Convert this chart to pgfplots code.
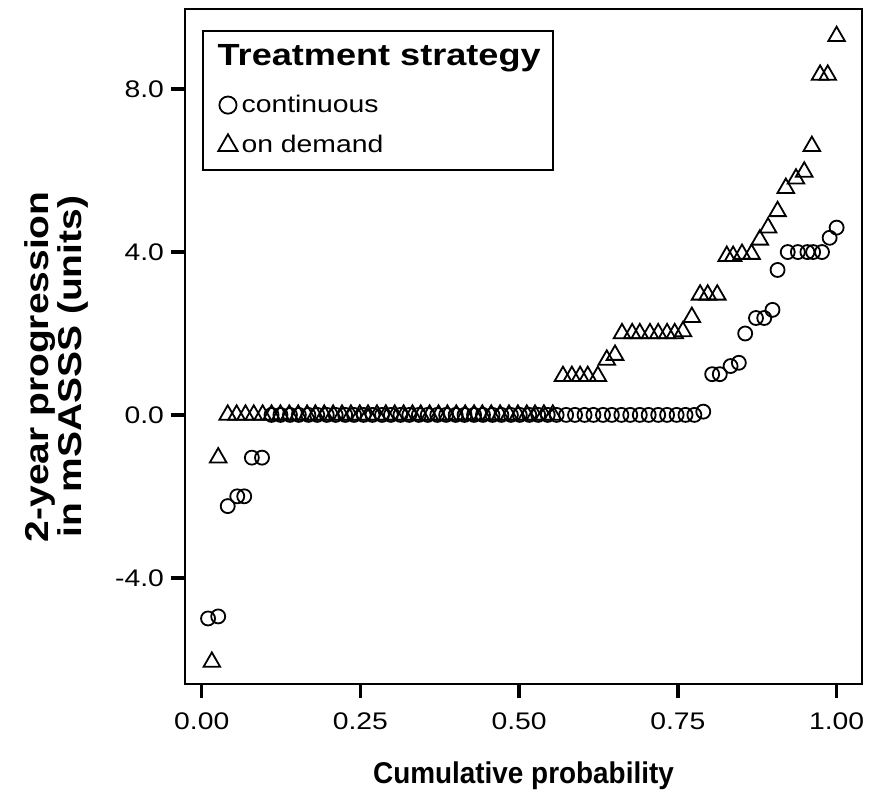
\documentclass[border=0pt]{standalone}
\usepackage{fontspec}
\setmainfont{Liberation Sans}[FakeStretch=1.18]
\newfontfamily\xlabelfont{Liberation Sans}[FakeStretch=0.93]
\usepackage{pgfplots}
\pgfplotsset{compat=1.18}

% continuous strategy (circles)
\pgfplotstableread{
p v
0.010 -5.00
0.026 -4.95
0.041 -2.24
0.056 -2.00
0.067 -2.00
0.079 -1.05
0.095 -1.05
0.110 0
0.124 0
0.139 0
0.153 0
0.168 0
0.182 0
0.197 0
0.211 0
0.226 0
0.240 0
0.255 0
0.269 0
0.284 0
0.298 0
0.313 0
0.327 0
0.342 0
0.356 0
0.371 0
0.385 0
0.400 0
0.414 0
0.429 0
0.443 0
0.458 0
0.472 0
0.487 0
0.501 0
0.516 0
0.530 0
0.545 0
0.559 0
0.574 0
0.588 0
0.603 0
0.617 0
0.632 0
0.646 0
0.661 0
0.675 0
0.690 0
0.704 0
0.719 0
0.733 0
0.748 0
0.762 0
0.776 0
0.790 0.08
0.804 1.00
0.816 1.00
0.833 1.20
0.846 1.28
0.856 2.00
0.873 2.38
0.886 2.38
0.899 2.58
0.907 3.56
0.923 4.00
0.939 4.00
0.954 4.00
0.963 4.00
0.977 4.00
0.989 4.35
1.000 4.60
}\continuous

% on demand strategy (triangles)
\pgfplotstableread{
p v
0.016 -6.07
0.026 -1.05
0.041 0
0.055 0
0.069 0
0.082 0
0.096 0
0.110 0
0.124 0
0.138 0
0.152 0
0.166 0
0.179 0
0.193 0
0.207 0
0.221 0
0.235 0
0.249 0
0.262 0
0.276 0
0.290 0
0.304 0
0.318 0
0.332 0
0.345 0
0.359 0
0.373 0
0.387 0
0.401 0
0.415 0
0.429 0
0.442 0
0.456 0
0.470 0
0.484 0
0.498 0
0.512 0
0.525 0
0.539 0
0.553 0
0.569 0.95
0.583 0.95
0.596 0.95
0.608 0.95
0.624 0.95
0.638 1.35
0.651 1.47
0.662 2.00
0.678 2.00
0.690 2.00
0.706 2.00
0.719 2.00
0.733 2.00
0.745 2.00
0.758 2.05
0.772 2.40
0.785 2.95
0.797 2.95
0.812 2.95
0.827 3.90
0.837 3.90
0.851 3.95
0.866 3.95
0.879 4.30
0.892 4.60
0.907 5.00
0.920 5.57
0.936 5.80
0.949 5.97
0.961 6.60
0.974 8.35
0.986 8.35
1.000 9.30
}\ondemand

\begin{document}
\begin{tikzpicture}
\path[use as bounding box] (-92.5pt,-54pt) rectangle (345.5pt,342pt);
\begin{axis}[
  at={(0pt,0pt)}, anchor=south west,
  scale only axis,
  width=338.5pt, height=337.5pt,
  xmin=-0.0263, xmax=1.040,
  ymin=-6.61, ymax=9.97,
  axis line style={line width=0.6pt},
  tick pos=left, tick align=outside,
  major tick length=7pt,
  major tick style={line width=1.8pt, black},
  xtick={0,0.25,0.5,0.75,1},
  xticklabels={0.00,0.25,0.50,0.75,1.00},
  ytick={-4,0,4,8},
  yticklabels={-4.0,0.0,4.0,8.0},
  ticklabel style={font=\fontsize{12}{14}\selectfont},
  xticklabel style={yshift=-4pt},
  xlabel={Cumulative probability},
  xlabel style={font=\xlabelfont\bfseries\fontsize{15}{17}\selectfont,
    at={(axis description cs:0.5,-0.136)}, anchor=center},
  ylabel={2-year progression\\in mSASSS (units)},
  ylabel style={align=center, font=\bfseries\fontsize{16.5}{16.5}\selectfont,
    at={(axis description cs:-0.19,0.47)}, anchor=center},
  legend cell align=left,
  legend style={at={(axis description cs:0.0251,0.969)}, anchor=north west,
    draw=black, line width=0.9pt, inner xsep=4pt, inner ysep=5pt,
    row sep=6pt, font=\fontsize{12}{14}\selectfont,
    /tikz/every even column/.append style={column sep=3pt}},
]
\addplot[only marks, mark=o, mark size=3.5pt, line width=0.9pt, black, forget plot]
  table[x=p, y=v] {\continuous};
\addplot[only marks, mark=triangle, mark size=4.8pt, line width=0.9pt, black, forget plot]
  table[x=p, y=v] {\ondemand};

\addlegendimage{empty legend}
\addlegendentry{\hspace*{-12pt}\raisebox{3pt}{\bfseries\fontsize{15.3}{17}\selectfont Treatment strategy}}
\addlegendimage{only marks, mark=o, mark size=4.3pt, line width=0.9pt, black}
\addlegendentry{continuous}
\addlegendimage{only marks, mark=triangle, mark size=5.6pt, line width=0.9pt, black}
\addlegendentry{on demand}
\end{axis}
\end{tikzpicture}
\end{document}
